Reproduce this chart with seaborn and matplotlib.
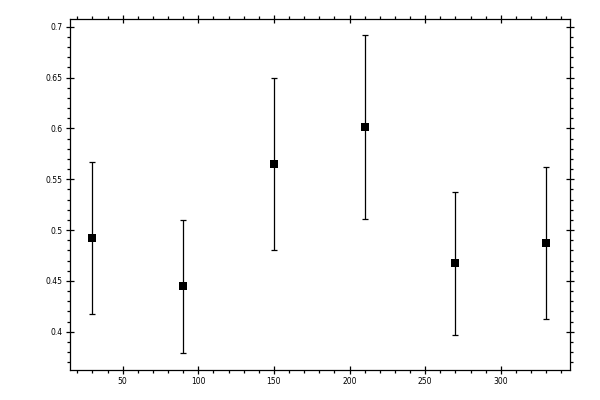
import matplotlib
matplotlib.use("Agg")
import matplotlib.pyplot as plt
import seaborn as sns
import numpy as np
import pandas as pd
from matplotlib.ticker import MultipleLocator

x_vals = [30, 90, 150, 210, 270, 330]
y_vals = [0.492, 0.4447, 0.5646, 0.6010, 0.4672, 0.4869]
y_err = [0.0748, 0.0656, 0.0846, 0.0905, 0.0702, 0.0748]

sns.set_style("ticks")
plt.rcParams['font.family'] = ['Liberation Sans Narrow', 'DejaVu Sans']

df = pd.DataFrame({"x": x_vals, "y": y_vals, "err": y_err})

fig = plt.figure(figsize=(6, 4), dpi=100)
ax = fig.add_axes([69.5/600, 30/400, (570-69.5)/600, (370-19)/400])

ax.errorbar(df["x"], df["y"], yerr=df["err"], fmt="none", ecolor="black",
            elinewidth=0.9, capsize=2.5, capthick=0.9)
sns.scatterplot(data=df, x="x", y="y", marker="s", s=26, color="black",
                edgecolor="black", linewidth=0, ax=ax, zorder=3)

ax.set_xlim(14.8, 345.8)
ax.set_ylim(0.3623, 0.7076)
ax.xaxis.set_major_locator(MultipleLocator(50))
ax.xaxis.set_minor_locator(MultipleLocator(10))
ax.yaxis.set_major_locator(MultipleLocator(0.05))
ax.yaxis.set_minor_locator(MultipleLocator(0.01))
ax.set_yticks([0.4, 0.45, 0.5, 0.55, 0.6, 0.65, 0.7])
ax.set_yticklabels(["0.4", "0.45", "0.5", "0.55", "0.6", "0.65", "0.7"])
ax.set_xticks([50, 100, 150, 200, 250, 300])
ax.set_xticklabels(["50", "100", "150", "200", "250", "300"])

ax.set_xlabel("")
ax.set_ylabel("")
for sp in ax.spines.values():
    sp.set_visible(True)
    sp.set_linewidth(0.9)
    sp.set_color("black")

ax.tick_params(which="major", direction="inout", length=5.5, width=0.9,
               colors="black", labelsize=5.5, pad=2.5,
               top=True, right=True, labeltop=False, labelright=False)
ax.tick_params(which="minor", direction="out", length=2.5, width=0.9,
               colors="black", top=True, right=True)

fig.savefig("out.png", dpi=100, facecolor="white")
